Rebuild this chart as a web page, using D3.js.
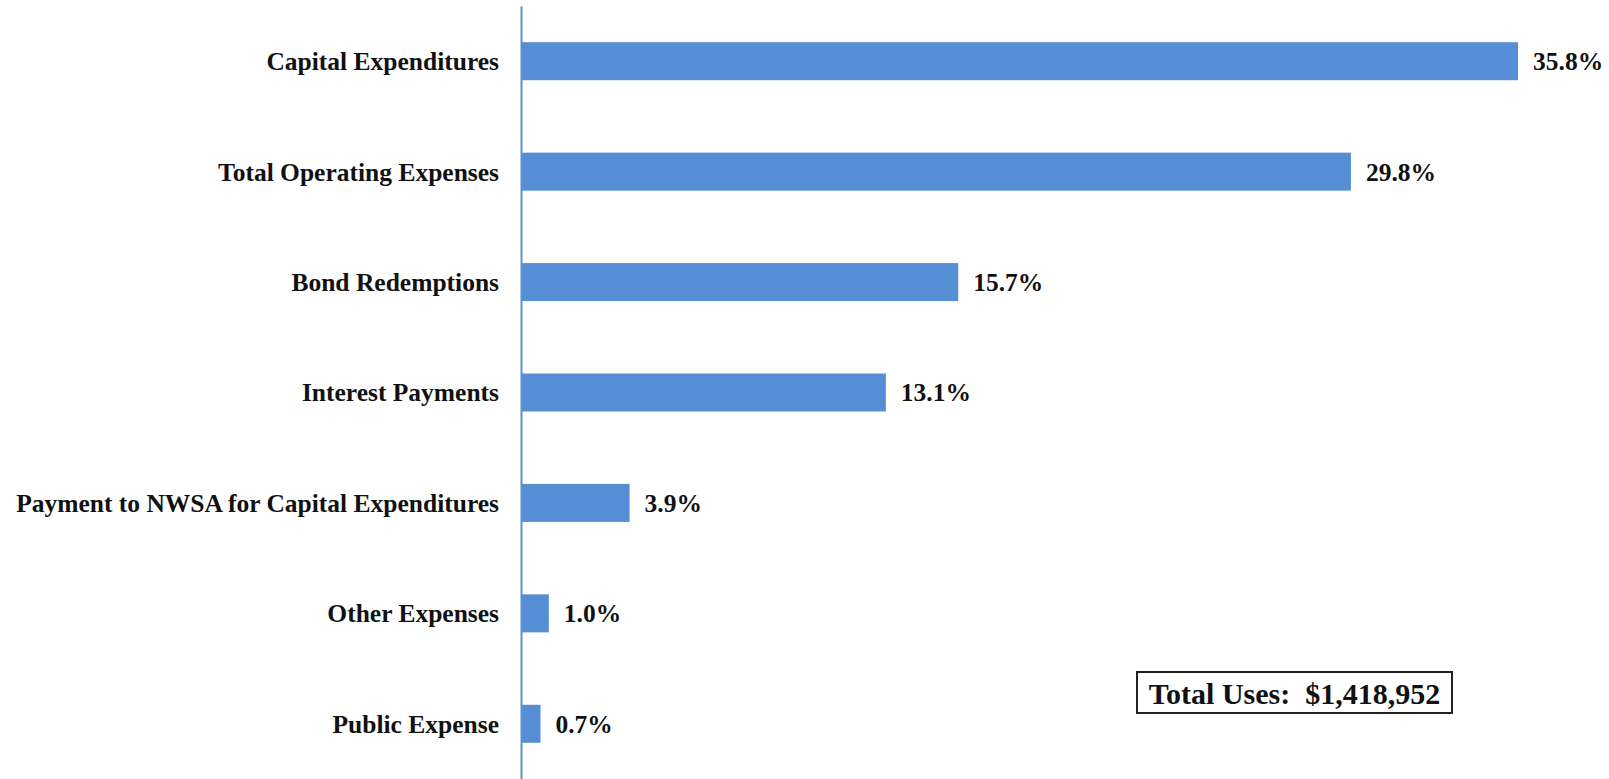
<!DOCTYPE html>
<html>
<head>
<meta charset="utf-8">
<script src="https://cdn.jsdelivr.net/npm/d3@7"></script>
<style>
  body { margin: 0; background: #fff; }
  svg { display: block; }
  .y.axis text { font-family: "Liberation Serif", "Times New Roman", serif; font-weight: bold; font-size: 25.5px; fill: #111; }
  .value { font-family: "Liberation Serif", "Times New Roman", serif; font-weight: bold; font-size: 25.5px; fill: #111; }
  .total { font-family: "Liberation Serif", "Times New Roman", serif; font-weight: bold; font-size: 30px; fill: #111; white-space: pre; }
</style>
</head>
<body>
<svg width="1609" height="779"></svg>
<script>
// Data
var categories = [
  "Capital Expenditures",
  "Total Operating Expenses",
  "Bond Redemptions",
  "Interest Payments",
  "Payment to NWSA for Capital Expenditures",
  "Other Expenses",
  "Public Expense"
];
var shares = [35.8, 29.8, 15.7, 13.1, 3.9, 1.0, 0.7];
var totalLabel = "Total Uses:  $1,418,952";

var data = categories.map(function(c, i) { return {name: c, value: shares[i]}; });

var svg = d3.select("svg");
var margin = {top: 6, left: 521};
var barColor = "#558ed5";

// scales
var x = d3.scaleLinear()
    .domain([0, 40])
    .range([0, 1114]);
var y = d3.scaleBand()
    .domain(categories)
    .range([0, 773])
    .paddingInner(0.656)
    .paddingOuter(0.328);

var g = svg.append("g")
    .attr("transform", "translate(" + margin.left + "," + margin.top + ")");

// bars
g.selectAll(".bar")
    .data(data)
    .enter().append("rect")
    .attr("class", "bar")
    .attr("x", 0)
    .attr("y", function(d) { return y(d.name); })
    .attr("height", y.bandwidth())
    .attr("width", function(d) { return x(d.value); })
    .attr("fill", barColor);

// value labels
g.selectAll(".value")
    .data(data)
    .enter().append("text")
    .attr("class", "value")
    .attr("x", function(d) { return x(d.value) + 15; })
    .attr("y", function(d) { return y(d.name) + y.bandwidth() / 2; })
    .attr("dy", "0.35em")
    .text(function(d) { return d.value.toFixed(1) + "%"; });

// category axis
var yAxis = g.append("g")
    .attr("class", "y axis")
    .call(d3.axisLeft(y).tickSize(0).tickSizeOuter(0).tickPadding(22));
yAxis.select(".domain")
    .attr("stroke", "#5b8fd6")
    .attr("stroke-width", 2);
yAxis.selectAll("text").attr("dy", "0.35em");

// total box
var box = svg.append("g").attr("transform", "translate(1137,672)");
box.append("rect")
    .attr("width", 315)
    .attr("height", 41)
    .attr("fill", "#fff")
    .attr("stroke", "#222")
    .attr("stroke-width", 2);
box.append("text")
    .attr("class", "total")
    .attr("x", 157.5)
    .attr("y", 21)
    .attr("dy", "0.35em")
    .attr("text-anchor", "middle")
    .text(totalLabel);
</script>
</body>
</html>
